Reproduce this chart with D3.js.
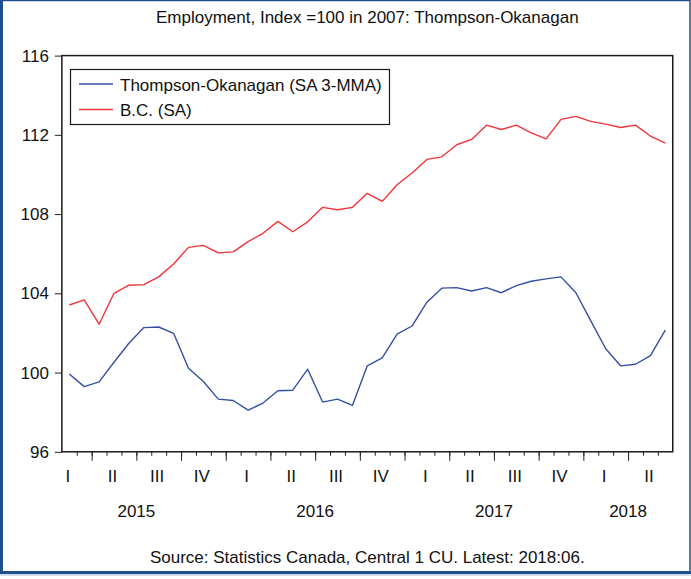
<!DOCTYPE html>
<html>
<head>
<meta charset="utf-8">
<script src="https://cdn.jsdelivr.net/npm/d3@7"></script>
<style>
	body { margin: 0; background-color: #ffffff; }
	text { font-family: "Liberation Sans", Arial, sans-serif; fill: #111111; }
</style>
</head>
<body>
<script>
// monthly observations, 2015:02 .. 2018:06
var months = d3.timeMonth.range(new Date(2015, 1, 1), new Date(2018, 6, 1));
var quarterNames = ["I", "II", "III", "IV"];
var years = [2015, 2016, 2017, 2018];
var yTicks = [96, 100, 104, 108, 112, 116];
var thompson = [99.93, 99.29, 99.53, 100.52, 101.48, 102.27, 102.30, 101.98, 100.22, 99.55,
	98.66, 98.59, 98.10, 98.46, 99.08, 99.11, 100.17, 98.51, 98.66, 98.34,
	100.34, 100.74, 101.94, 102.35, 103.55, 104.26, 104.29, 104.12, 104.29, 104.03,
	104.39, 104.61, 104.73, 104.83, 104.03, 102.61, 101.20, 100.34, 100.42, 100.86, 102.14];
var bc = [103.41, 103.67, 102.44, 104.00, 104.41, 104.44, 104.83, 105.48, 106.32, 106.42,
	106.04, 106.09, 106.61, 107.03, 107.63, 107.11, 107.61, 108.34, 108.22, 108.34,
	109.05, 108.64, 109.48, 110.07, 110.76, 110.89, 111.50, 111.77, 112.49, 112.27,
	112.49, 112.10, 111.80, 112.78, 112.93, 112.68, 112.54, 112.37, 112.49, 111.94, 111.58];
var seriesNames = ["Thompson-Okanagan (SA 3-MMA)", "B.C. (SA)"];
var seriesColors = ["#3450a6", "#f0343a"];

var W = 691, H = 579;
var svg = d3.select("body")
	.append("svg")
	.attr("width", W)
	.attr("height", H);

// outer frame
svg.append("rect")
	.attr("x", 1).attr("y", 0.5)
	.attr("width", W - 2).attr("height", 572)
	.attr("fill", "none")
	.attr("stroke", "#1f4f8e")
	.attr("stroke-width", 1.5);
svg.append("line")
	.attr("x1", 1.5).attr("x2", 1.5).attr("y1", 0).attr("y2", 574)
	.attr("stroke", "#1f4f8e").attr("stroke-width", 3);
svg.append("line")
	.attr("x1", 0).attr("x2", W).attr("y1", 572.5).attr("y2", 572.5)
	.attr("stroke", "#1f4f8e").attr("stroke-width", 3);
svg.append("line")
	.attr("x1", 0).attr("x2", W).attr("y1", 575).attr("y2", 575)
	.attr("stroke", "#a9bdd6").attr("stroke-width", 1);

var plotL = 61.85, plotR = 672.75, plotT = 55.6, plotB = 451.8;
var x = d3.scaleLinear()
	.domain([-0.5, months.length - 0.5])
	.range([plotL, plotR]);
var y = d3.scaleLinear()
	.domain([96, 116])
	.range([plotB, plotT]);

// y axis
var yAxis = svg.append("g")
	.attr("transform", "translate(" + plotL + ",0)")
	.call(d3.axisLeft(y).tickValues(yTicks).tickSize(7).tickPadding(6).tickFormat(d3.format("d")));
yAxis.select(".domain").remove();
yAxis.selectAll("text").style("font-size", "17px");
yAxis.selectAll("line").attr("stroke", "#222222");

// x axis: minor ticks every month, major ticks at quarter starts
var bounds = d3.range(1, months.length).map(function (i) { return i - 0.5; });
var major = bounds.filter(function (b) { return months[b + 0.5].getMonth() % 3 === 0; });
var minorAxis = svg.append("g")
	.attr("transform", "translate(0," + plotB + ")")
	.call(d3.axisBottom(x).tickValues(bounds).tickSize(4).tickFormat(""));
minorAxis.select(".domain").remove();
var majorAxis = svg.append("g")
	.attr("transform", "translate(0," + plotB + ")")
	.call(d3.axisBottom(x).tickValues(major).tickSize(9).tickFormat(""));
majorAxis.select(".domain").remove();
svg.selectAll(".tick line").attr("stroke", "#222222");

// quarter labels at middle month of each quarter
var mids = d3.range(months.length).filter(function (i) { return months[i].getMonth() % 3 === 1; });
svg.append("g").selectAll("text")
	.data(mids)
	.enter()
	.append("text")
	.attr("x", function (i) { return x(i) - 1.5; })
	.attr("y", 482)
	.attr("text-anchor", "middle")
	.style("font-size", "17px")
	.text(function (i) { return quarterNames[Math.floor(months[i].getMonth() / 3)]; });

// year labels
svg.append("g").selectAll("text")
	.data(years)
	.enter()
	.append("text")
	.attr("x", function (yr) {
		var s = (yr - 2015) * 12 - 1;
		var e = Math.min(s + 11, months.length - 1);
		return x((s + e) / 2);
	})
	.attr("y", 517)
	.attr("text-anchor", "middle")
	.style("font-size", "17px")
	.text(function (yr) { return yr; });

// lines
var line = d3.line()
	.x(function (d, i) { return x(i); })
	.y(function (d) { return y(d); });
[thompson, bc].forEach(function (s, k) {
	svg.append("path")
		.datum(s)
		.attr("d", line)
		.attr("fill", "none")
		.attr("stroke", seriesColors[k])
		.attr("stroke-width", 1.4)
		.attr("stroke-linejoin", "round");
});

// plot frame
svg.append("rect")
	.attr("x", plotL).attr("y", plotT)
	.attr("width", plotR - plotL).attr("height", plotB - plotT)
	.attr("fill", "none")
	.attr("stroke", "#1a1a1a")
	.attr("stroke-width", 1.5);

// legend
var legend = svg.append("g");
legend.append("rect")
	.attr("x", 70.5).attr("y", 69.5)
	.attr("width", 319).attr("height", 55)
	.attr("fill", "#ffffff")
	.attr("stroke", "#1a1a1a")
	.attr("stroke-width", 1.2);
seriesNames.forEach(function (n, k) {
	var ly = 84 + k * 25.5;
	legend.append("line")
		.attr("x1", 79).attr("x2", 113)
		.attr("y1", ly).attr("y2", ly)
		.attr("stroke", seriesColors[k])
		.attr("stroke-width", 1.4);
	legend.append("text")
		.attr("x", 120)
		.attr("y", ly + 6.5)
		.style("font-size", "17px")
		.text(n);
});

// title and source
svg.append("text")
	.attr("x", (plotL + plotR) / 2)
	.attr("y", 23)
	.attr("text-anchor", "middle")
	.style("font-size", "17px")
	.text("Employment, Index =100 in 2007: Thompson-Okanagan");
svg.append("text")
	.attr("x", (plotL + plotR) / 2)
	.attr("y", 563)
	.attr("text-anchor", "middle")
	.style("font-size", "17px")
	.text("Source: Statistics Canada, Central 1 CU. Latest: 2018:06.");
</script>
</body>
</html>
